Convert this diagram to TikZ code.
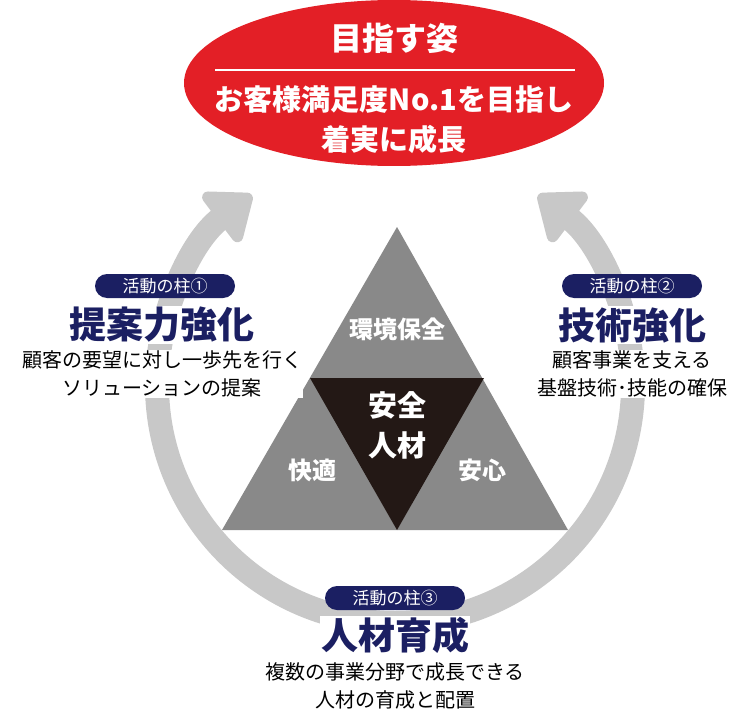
\documentclass[tikz,border=0pt]{standalone}
\usepackage{fontspec}
\setmainfont{Noto Sans CJK JP}
\usetikzlibrary{arrows.meta,positioning,shapes.geometric}
\definecolor{MyRed}{HTML}{E31F26}
\definecolor{MyNavy}{HTML}{1B1F62}
\definecolor{MyArc}{HTML}{C8C8C8}
\definecolor{MyGray}{HTML}{898989}
\definecolor{MyBlack}{HTML}{231815}

\begin{document}
\begin{tikzpicture}[x=1pt,y=-1pt,
				pill/.style={fill=MyNavy,text=white,rounded corners=12pt,minimum width=140pt,minimum height=24pt,inner sep=0pt,font=\fontsize{17}{17}\selectfont},
				heading/.style={fill=white,text=MyNavy,inner sep=1pt,font=\bfseries\fontsize{37}{37}\selectfont},
				body/.style={fill=white,align=center,inner sep=1pt,font=\fontsize{20}{28}\selectfont},
				tri/.style={text=white,font=\bfseries\fontsize{24}{24}\selectfont},
				ring/.style={draw=MyArc,line width=24pt,-{Triangle[length=46pt,width=70pt,round]}},
			]
			\useasboundingbox (0,0) rectangle (738,714);

			% circular arrows
			\draw[ring] (395,385) ++(90:238) arc[start angle=90,end angle=233,radius=238];
			\draw[ring] (395,385) ++(90:238) arc[start angle=90,end angle=-53,radius=238];

			% triangle
			\fill[MyGray] (397,227) -- (568,530) -- (222,530) -- cycle;
			\fill[MyBlack] (310,378) -- (484,378) -- (397,530) -- cycle;
			\node (env) [tri] at (397,329) {環境保全};
			\node (comfort) [tri] at (312,470) {快適};
			\node (relief) [tri] at (482,470) {安心};
			\node (safety) [tri,align=center,font=\bfseries\fontsize{29}{40}\selectfont] at (397,425) {安全\\人材};

			% goal
			\node (goal) [ellipse,fill=MyRed,minimum width=420pt,minimum height=166pt] at (394,83) {};
			\node (goaltitle) [text=white,font=\bfseries\fontsize{32}{32}\selectfont] at (394,38) {目指す姿};
			\draw[white,line width=1.2pt] (215,70) -- (575,70);
			\node (goaltext) [text=white,align=center,font=\bfseries\fontsize{29}{40}\selectfont] at (394,120) {お客様満足度No.1を目指し\\着実に成長};

			% pillars
			\node (pill1) [pill] at (165,286) {活動の柱①};
			\node (head1) [heading] at (162,325) {提案力強化};
			\node (text1) [body] at (162,374) {顧客の要望に対し一歩先を行く\\ソリューションの提案};

			\node (pill2) [pill] at (632,286) {活動の柱②};
			\node (head2) [heading] at (632,325) {技術強化};
			\node (text2) [body] at (632,374) {顧客事業を支える\\基盤技術･技能の確保};

			\node (pill3) [pill] at (395,598) {活動の柱③};
			\node (head3) [heading] at (395,635) {人材育成};
			\node (text3) [body] at (395,686) {複数の事業分野で成長できる\\人材の育成と配置};
		\end{tikzpicture}
\end{document}
